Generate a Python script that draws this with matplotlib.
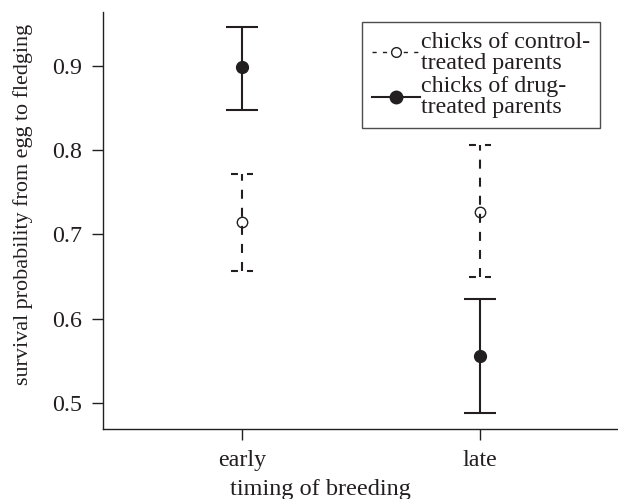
import matplotlib.pyplot as plt

plt.rcParams['font.family'] = ['Liberation Serif', 'DejaVu Serif']
plt.rcParams['lines.scale_dashes'] = False

timing = ['early', 'late']
x_pos = [1, 2]

# chicks of control-treated parents
ctrl_mean = [0.715, 0.727]
ctrl_low = [0.657, 0.650]
ctrl_high = [0.772, 0.806]

# chicks of drug-treated parents
drug_mean = [0.899, 0.556]
drug_low = [0.848, 0.488]
drug_high = [0.946, 0.623]

ink = '#231f20'
W, H = 618, 499

fig = plt.figure(figsize=(W / 100, H / 100), dpi=100)
ax = fig.add_axes([103 / W, 1 - 429 / H, 515 / W, (429 - 12) / H])

ctrl_err = [[m - l for m, l in zip(ctrl_mean, ctrl_low)],
            [h - m for m, h in zip(ctrl_mean, ctrl_high)]]
drug_err = [[m - l for m, l in zip(drug_mean, drug_low)],
            [h - m for m, h in zip(drug_mean, drug_high)]]

# control: dashed bars, dashed caps, open circles
c = ax.errorbar(x_pos, ctrl_mean, yerr=ctrl_err, fmt='none', ecolor=ink,
                elinewidth=1.5, capsize=0)
c[2][0].set_linestyle((0, (6.5, 6.5)))
half = 0.048
for lo, hi, x in zip(ctrl_low, ctrl_high, x_pos):
    ax.hlines([lo, hi], x - half, x + half, colors=ink, lw=1.5,
              linestyles=[(0, (5.0, 6.5, 5.0, 10))])
ax.plot(x_pos, ctrl_mean, 'o', mfc='none', mec=ink, ms=7.5, mew=1.0, zorder=3)

# drug: solid bars, filled circles
ax.errorbar(x_pos, drug_mean, yerr=drug_err, fmt='o', color=ink, ms=8.5,
            ecolor=ink, elinewidth=1.5, capsize=11.5, capthick=1.5)

# legend
h_ctrl, = ax.plot([], [], color=ink, ls=(0, (3, 4.5)), lw=1.0, marker='o',
                  mfc='white', mec=ink, ms=7, mew=1.0)
h_drug, = ax.plot([], [], color=ink, ls='-', lw=1.5, marker='o', ms=9)
leg = ax.legend([h_ctrl, h_drug],
                ['chicks of control-\ntreated parents', 'chicks of drug-\ntreated parents'],
                loc='upper right', bbox_to_anchor=(600 / W, 1 - 22 / H),
                bbox_transform=fig.transFigure, fontsize=17.3,
                frameon=True, fancybox=False, edgecolor=ink, handlelength=2.0,
                handletextpad=0.05, borderpad=0.4, labelspacing=0.1,
                borderaxespad=0.0)
leg.get_frame().set_linewidth(1.0)
for t in leg.get_texts():
    t.set_linespacing(1.0)
    t.set_color(ink)

ax.set_xlim(0.416, 2.58)
ax.set_ylim(0.469, 0.964)
ax.set_xticks(x_pos)
ax.set_xticklabels(timing)
ax.set_yticks([0.5, 0.6, 0.7, 0.8, 0.9])
ax.set_yticklabels(['0.5', '0.6', '0.7', '0.8', '0.9'])
ax.spines['top'].set_visible(False)
ax.spines['right'].set_visible(False)
for s in ['left', 'bottom']:
    ax.spines[s].set_color(ink)
    ax.spines[s].set_linewidth(1.0)
ax.tick_params(colors=ink, labelsize=17.3, length=8, width=1.0, pad=7)

fig.text(320 / W, 1 - 489 / H, 'timing of breeding', fontsize=17.5, color=ink,
         ha='center', va='center')
fig.text(23 / W, 1 - 204 / H, 'survival probability from egg to fledging',
         fontsize=15.9, color=ink, rotation=90, ha='center', va='center')

fig.savefig('out.png', dpi=100)
